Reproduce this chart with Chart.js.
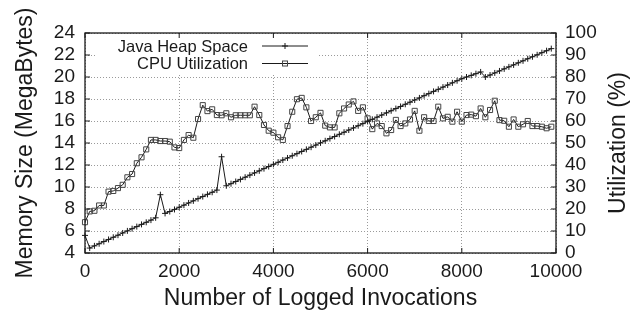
<!DOCTYPE html>
<html><head><meta charset="utf-8">
<script src="https://cdn.jsdelivr.net/npm/chart.js@4.4.0/dist/chart.umd.min.js"></script>
<style>html,body{margin:0;padding:0;background:#fff;overflow:hidden}#wrap{width:638px;height:318px}</style>
</head><body><div id="wrap"><canvas id="c" width="638" height="318"></canvas></div>
<script>
const invocations = [0,100,200,300,400,500,600,700,800,900,1000,1100,1200,1300,1400,1500,1600,1700,1800,1900,
2000,2100,2200,2300,2400,2500,2600,2700,2800,2900,3000,3100,3200,3300,3400,3500,3600,3700,3800,3900,
4000,4100,4200,4300,4400,4500,4600,4700,4800,4900,5000,5100,5200,5300,5400,5500,5600,5700,5800,5900,
6000,6100,6200,6300,6400,6500,6600,6700,6800,6900,7000,7100,7200,7300,7400,7500,7600,7700,7800,7900,
8000,8100,8200,8300,8400,8500,8600,8700,8800,8900,9000,9100,9200,9300,9400,9500,9600,9700,9800,9900];

const heapMB = [5.60,4.45,4.65,4.84,5.04,5.23,5.43,5.62,5.82,6.01,6.21,6.40,6.60,6.79,6.99,7.20,9.30,7.60,7.77,7.96,
8.16,8.35,8.55,8.74,8.94,9.13,9.33,9.52,9.72,12.75,10.11,10.30,10.50,10.69,10.89,11.08,11.28,11.47,11.67,11.86,
12.06,12.25,12.45,12.64,12.84,13.03,13.23,13.42,13.62,13.81,14.01,14.20,14.40,14.59,14.79,14.98,15.18,15.37,15.57,15.76,
15.96,16.15,16.35,16.54,16.74,16.93,17.13,17.32,17.52,17.71,17.91,18.10,18.30,18.49,18.69,18.88,19.08,19.27,19.47,19.66,
19.84,20.00,20.15,20.30,20.46,20.00,20.18,20.37,20.55,20.74,20.92,21.10,21.29,21.47,21.66,21.84,22.02,22.21,22.39,22.58];

const cpuPct = [14.0,18.9,19.2,21.6,21.6,27.9,28.2,29.5,31.0,34.4,35.9,40.8,43.5,47.1,51.4,51.4,50.9,50.9,50.6,48.0,
47.7,51.4,53.6,52.4,60.9,67.2,64.5,65.3,62.7,62.6,63.5,61.7,62.6,62.6,62.6,62.6,66.5,62.7,58.2,55.6,
54.7,52.6,51.4,57.7,64.2,69.9,70.5,66.2,60.0,61.7,63.7,57.9,57.1,57.1,63.5,65.7,67.5,68.9,64.6,66.2,
61.2,56.3,58.9,57.7,54.4,55.9,60.5,57.7,58.9,60.7,64.6,55.6,61.7,60.0,60.0,66.5,61.2,61.9,59.7,64.2,
59.7,62.7,62.9,62.2,65.7,61.7,65.0,69.2,60.4,60.1,57.4,60.7,57.4,58.5,60.0,57.7,57.7,57.4,56.7,57.4];

const xTicks = [0,2000,4000,6000,8000,10000];
const yTicks = [4,6,8,10,12,14,16,18,20,22,24];
const y2Ticks = [0,10,20,30,40,50,60,70,80,90,100];
const seriesNames = ['Java Heap Space','CPU Utilization'];

const FONT = "'Liberation Sans', Arial, Helvetica, sans-serif";
const INK = '#1a1a1a';

const framePlugin = {
  id: 'frame',
  beforeDatasetsDraw(chart) {
    const ctx = chart.ctx, a = chart.chartArea;
    ctx.save();
    ctx.fillStyle = '#fff';
    ctx.fillRect(a.left + 10, a.top + 3, 224, 37);
    ctx.restore();
  },
  afterDatasetsDraw(chart) {
    const ctx = chart.ctx, a = chart.chartArea;
    const sx = chart.scales.x, sy = chart.scales.y, sy2 = chart.scales.y2;
    ctx.save();
    ctx.strokeStyle = INK;
    ctx.lineWidth = 1.3;
    ctx.strokeRect(a.left, a.top, a.right - a.left, a.bottom - a.top);
    ctx.lineWidth = 1;
    ctx.beginPath();
    const tl = 5;
    xTicks.forEach(v => {
      const p = sx.getPixelForValue(v);
      ctx.moveTo(p, a.bottom); ctx.lineTo(p, a.bottom - tl);
      ctx.moveTo(p, a.top); ctx.lineTo(p, a.top + tl);
    });
    yTicks.forEach(v => {
      const p = sy.getPixelForValue(v);
      ctx.moveTo(a.left, p); ctx.lineTo(a.left + tl, p);
    });
    y2Ticks.forEach(v => {
      const p = sy2.getPixelForValue(v);
      ctx.moveTo(a.right, p); ctx.lineTo(a.right - tl, p);
    });
    ctx.stroke();

    ctx.font = '16.5px ' + FONT;
    ctx.fillStyle = INK;
    ctx.textAlign = 'right';
    ctx.textBaseline = 'middle';
    const rows = [a.top + 13, a.top + 30.5];
    const tx = a.left + 163, l0 = a.left + 177, l1 = a.left + 223;
    seriesNames.forEach((name, i) => {
      const y = rows[i];
      ctx.fillText(name, tx, y + 1);
      ctx.beginPath();
      ctx.strokeStyle = INK; ctx.lineWidth = 1;
      ctx.moveTo(l0, y); ctx.lineTo(l1, y); ctx.stroke();
      const m = (l0 + l1) / 2;
      ctx.beginPath();
      if (i === 0) {
        ctx.moveTo(m - 3, y); ctx.lineTo(m + 3, y);
        ctx.moveTo(m, y - 3); ctx.lineTo(m, y + 3);
        ctx.stroke();
      } else {
        ctx.strokeStyle = '#444';
        ctx.strokeRect(m - 2.5, y - 2.5, 5, 5);
      }
    });

    ctx.save();
    ctx.translate(618.5, (a.top + a.bottom) / 2);
    ctx.rotate(-Math.PI / 2);
    ctx.font = '23px ' + FONT;
    ctx.textAlign = 'center';
    ctx.textBaseline = 'middle';
    ctx.fillStyle = INK;
    ctx.fillText('Utilization (%)', 0, 0);
    ctx.restore();
    ctx.restore();
  }
};

const gridOpts = { color: '#9a9a9a', lineWidth: 1, drawTicks: false };
const borderOpts = { display: false, dash: [1, 2] };
const plain = v => String(v);

new Chart(document.getElementById('c'), {
  type: 'line',
  data: {
    datasets: [
      {
        label: seriesNames[0],
        data: invocations.map((x, i) => ({ x: x, y: heapMB[i] })),
        yAxisID: 'y',
        borderColor: INK, borderWidth: 1,
        pointStyle: 'cross', pointRadius: 3, pointBorderColor: INK, pointBorderWidth: 1,
        tension: 0, clip: 6
      },
      {
        label: seriesNames[1],
        data: invocations.map((x, i) => ({ x: x, y: cpuPct[i] })),
        yAxisID: 'y2',
        borderColor: INK, borderWidth: 1,
        pointStyle: 'rect', pointRadius: 3.6, pointBorderColor: '#444',
        pointBackgroundColor: 'rgba(255,255,255,0)', pointBorderWidth: 1,
        tension: 0, clip: 6
      }
    ]
  },
  options: {
    responsive: false, animation: false, devicePixelRatio: 1,
    layout: { padding: { top: 33, left: 0, right: 0, bottom: 0 } },
    plugins: { legend: { display: false }, tooltip: { enabled: false } },
    scales: {
      x: {
        type: 'linear', min: 0, max: 10000,
        afterBuildTicks: s => { s.ticks = xTicks.map(v => ({ value: v })); },
        afterFit: s => { s.height = 65; },
        ticks: { padding: 7, font: { family: FONT, size: 19 }, color: INK, maxRotation: 0, autoSkip: false, callback: plain },
        grid: gridOpts, border: borderOpts,
        title: { display: true, text: 'Number of Logged Invocations', font: { family: FONT, size: 23 }, color: INK, padding: { top: 0, bottom: 6 } }
      },
      y: {
        position: 'left', min: 4, max: 24,
        afterBuildTicks: s => { s.ticks = yTicks.map(v => ({ value: v })); },
        afterFit: s => { s.width = 85; },
        ticks: { padding: 10, font: { family: FONT, size: 19 }, color: INK, autoSkip: false, callback: plain },
        grid: gridOpts, border: borderOpts,
        title: { display: true, text: 'Memory Size (MegaBytes)', font: { family: FONT, size: 23 }, color: INK, padding: { top: 12, bottom: 0 } }
      },
      y2: {
        position: 'right', min: 0, max: 100,
        afterBuildTicks: s => { s.ticks = y2Ticks.map(v => ({ value: v })); },
        afterFit: s => { s.width = 82; },
        ticks: { padding: 9, font: { family: FONT, size: 19 }, color: INK, autoSkip: false, callback: plain },
        grid: { display: false, drawTicks: false }, border: { display: false }
      }
    }
  },
  plugins: [framePlugin]
});
</script>
</body></html>
